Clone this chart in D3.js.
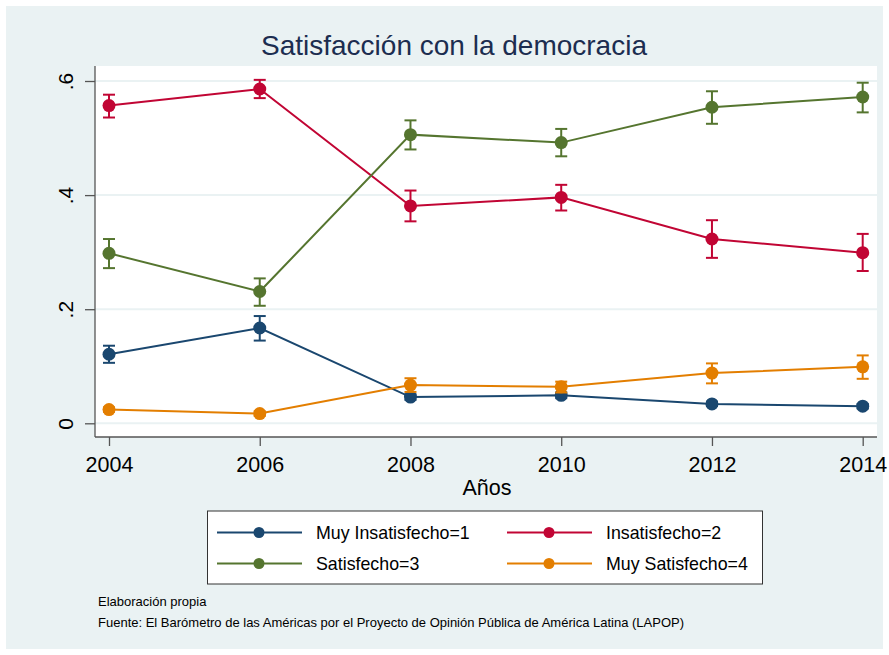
<!DOCTYPE html>
<html>
<head>
<meta charset="utf-8">
<script src="https://cdn.jsdelivr.net/npm/d3@7"></script>
<style>
  body { margin: 0; background: #fff; }
  text { font-family: "Liberation Sans", Arial, sans-serif; }
</style>
</head>
<body>
<svg id="chart" width="889" height="655"></svg>
<script>
// Data
const years = [2004, 2006, 2008, 2010, 2012, 2014];
const yTicks = [0, 0.2, 0.4, 0.6];
const yTickLabels = ['0', '.2', '.4', '.6'];

const muyInsatisfecho    = [0.121, 0.167, 0.046, 0.049, 0.034, 0.030];
const muyInsatisfechoLo  = [0.106, 0.145, 0.041, 0.044, 0.030, 0.026];
const muyInsatisfechoHi  = [0.136, 0.188, 0.051, 0.054, 0.038, 0.034];

const insatisfecho   = [0.557, 0.586, 0.381, 0.396, 0.323, 0.299];
const insatisfechoLo = [0.536, 0.570, 0.354, 0.373, 0.290, 0.267];
const insatisfechoHi = [0.576, 0.602, 0.408, 0.418, 0.356, 0.332];

const satisfecho   = [0.298, 0.231, 0.506, 0.492, 0.554, 0.572];
const satisfechoLo = [0.272, 0.206, 0.480, 0.468, 0.525, 0.545];
const satisfechoHi = [0.323, 0.254, 0.531, 0.516, 0.582, 0.597];

const muySatisfecho   = [0.024, 0.017, 0.067, 0.064, 0.088, 0.099];
const muySatisfechoLo = [0.020, 0.013, 0.055, 0.054, 0.070, 0.078];
const muySatisfechoHi = [0.028, 0.021, 0.079, 0.073, 0.105, 0.119];

const seriesNames = ['Muy Insatisfecho=1', 'Insatisfecho=2', 'Satisfecho=3', 'Muy Satisfecho=4'];
const seriesColors = ['#1a476f', '#c10534', '#55752f', '#e37e00'];

const series = [
  {name: seriesNames[0], color: seriesColors[0], v: muyInsatisfecho, lo: muyInsatisfechoLo, hi: muyInsatisfechoHi},
  {name: seriesNames[1], color: seriesColors[1], v: insatisfecho, lo: insatisfechoLo, hi: insatisfechoHi},
  {name: seriesNames[2], color: seriesColors[2], v: satisfecho, lo: satisfechoLo, hi: satisfechoHi},
  {name: seriesNames[3], color: seriesColors[3], v: muySatisfecho, lo: muySatisfechoLo, hi: muySatisfechoHi},
];

const svg = d3.select('#chart');
const bg = '#eaf2f3';

// Outer background
svg.append('rect').attr('x', 6).attr('y', 6).attr('width', 877).attr('height', 643).attr('fill', bg);

// Plot region
const plot = {left: 95, right: 877, top: 66, bottom: 437};
svg.append('rect')
  .attr('x', plot.left).attr('y', plot.top)
  .attr('width', plot.right - plot.left).attr('height', plot.bottom - plot.top)
  .attr('fill', '#fff');

const x = d3.scaleLinear().domain([2004, 2014]).range([109, 862.7]);
const y = d3.scaleLinear().domain([0, 0.6]).range([423.3, 81]);

// Gridlines
svg.append('g').selectAll('line').data(yTicks).join('line')
  .attr('x1', plot.left).attr('x2', plot.right)
  .attr('y1', d => y(d)).attr('y2', d => y(d))
  .attr('stroke', bg).attr('stroke-width', 2);

// Y axis
const yAxis = svg.append('g')
  .attr('transform', `translate(${plot.left},0)`)
  .call(d3.axisLeft(y).tickValues(yTicks).tickFormat((d, i) => yTickLabels[i]).tickSize(10).tickSizeOuter(0));
yAxis.select('.domain').attr('d', `M0,${plot.top}V${plot.bottom}`).attr('stroke', '#555').attr('stroke-width', 1.3);
yAxis.selectAll('.tick line').attr('stroke', '#555').attr('stroke-width', 1.3);
yAxis.selectAll('.tick text')
  .attr('x', null).attr('dy', null)
  .attr('text-anchor', 'middle')
  .attr('transform', 'translate(-22,0) rotate(-90)')
  .attr('font-size', 21).attr('fill', '#000');

// X axis
const xAxis = svg.append('g')
  .attr('transform', `translate(0,${plot.bottom})`)
  .call(d3.axisBottom(x).tickValues(years).tickFormat(d3.format('d')).tickSize(9).tickSizeOuter(0));
xAxis.select('.domain').attr('d', `M${plot.left},0H${plot.right}`).attr('stroke', '#555').attr('stroke-width', 1.3);
xAxis.selectAll('.tick line').attr('stroke', '#555').attr('stroke-width', 1.3);
xAxis.selectAll('.tick text')
  .attr('y', 35).attr('dy', null)
  .attr('font-size', 21.5).attr('fill', '#000');

svg.append('text').attr('x', 487).attr('y', 495).attr('text-anchor', 'middle')
  .attr('font-size', 21.5).text('Años');

// Title
svg.append('text').attr('x', 454).attr('y', 55).attr('text-anchor', 'middle')
  .attr('font-size', 28).attr('fill', '#1c2d50').text('Satisfacción con la democracia');

// Series
const line = d3.line().x((d, i) => x(years[i])).y(d => y(d));
series.forEach(s => {
  const g = svg.append('g');
  g.append('path').datum(s.v).attr('d', line)
    .attr('fill', 'none').attr('stroke', s.color).attr('stroke-width', 2);
  // Error bars
  years.forEach((yr, i) => {
    const cx = x(yr);
    g.append('line').attr('x1', cx).attr('x2', cx).attr('y1', y(s.lo[i])).attr('y2', y(s.hi[i]))
      .attr('stroke', s.color).attr('stroke-width', 2);
    [s.lo[i], s.hi[i]].forEach(v => {
      g.append('line').attr('x1', cx - 6).attr('x2', cx + 6).attr('y1', y(v)).attr('y2', y(v))
        .attr('stroke', s.color).attr('stroke-width', 2);
    });
  });
  g.selectAll('circle').data(s.v).join('circle')
    .attr('cx', (d, i) => x(years[i])).attr('cy', d => y(d)).attr('r', 6.5)
    .attr('fill', s.color);
});

// Legend
svg.append('rect').attr('x', 207.5).attr('y', 511).attr('width', 555).attr('height', 73)
  .attr('fill', '#fff').attr('stroke', '#333').attr('stroke-width', 1);
const legendPos = [
  {lx: 217, ly: 532.5}, {lx: 507, ly: 532.5},
  {lx: 217, ly: 563.5}, {lx: 507, ly: 563.5},
];
series.forEach((s, i) => {
  const p = legendPos[i];
  svg.append('line').attr('x1', p.lx).attr('x2', p.lx + 85).attr('y1', p.ly).attr('y2', p.ly)
    .attr('stroke', s.color).attr('stroke-width', 2);
  svg.append('circle').attr('cx', p.lx + 42).attr('cy', p.ly).attr('r', 5.5).attr('fill', s.color);
  svg.append('text').attr('x', p.lx + 99).attr('y', p.ly + 6.5)
    .attr('font-size', 17.8).attr('fill', '#000').text(s.name);
});

// Notes
svg.append('text').attr('x', 98).attr('y', 606).attr('font-size', 13).text('Elaboración propia');
svg.append('text').attr('x', 98).attr('y', 627).attr('font-size', 13)
  .text('Fuente: El Barómetro de las Américas por el Proyecto de Opinión Pública de América Latina (LAPOP)');
</script>
</body>
</html>
